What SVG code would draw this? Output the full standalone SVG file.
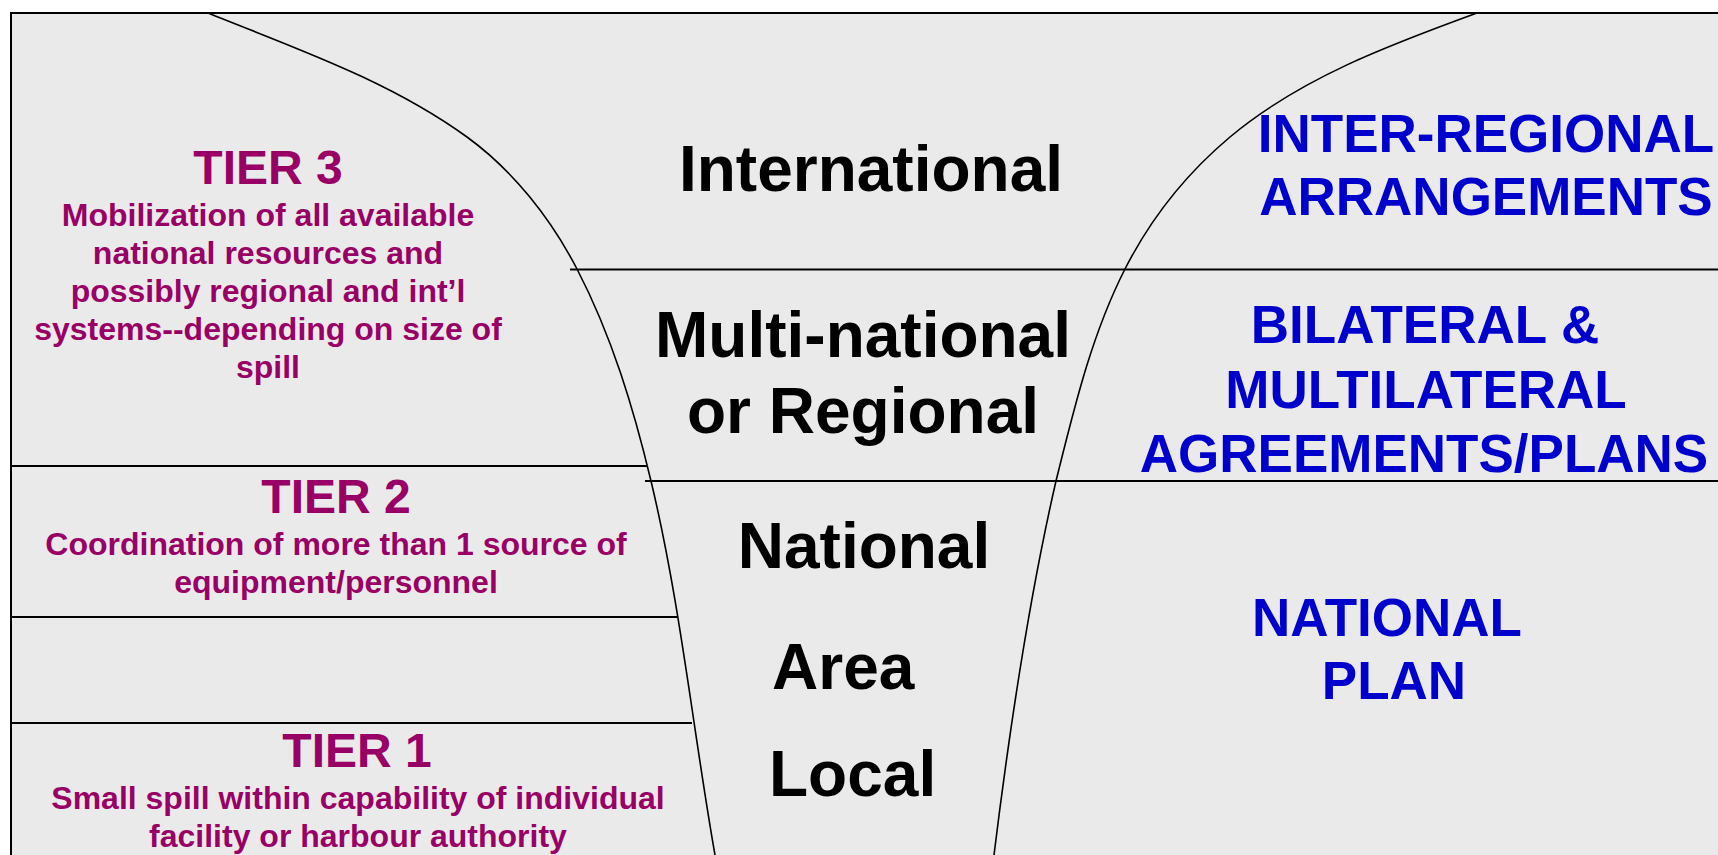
<svg xmlns="http://www.w3.org/2000/svg" width="1718" height="855" viewBox="0 0 1718 855">
<style>
text{font-family:"Liberation Sans",Arial,sans-serif;font-weight:bold;}
.lvl{font-size:64px;fill:#000;}
.tier{font-size:48px;fill:#990066;text-anchor:middle;}
.desc{font-size:32px;fill:#990066;text-anchor:middle;}
.plan{font-size:53px;fill:#0000CC;text-anchor:middle;}
.mid{text-anchor:middle;}
.hl{stroke:#000;stroke-width:2;fill:none;}
.cv{stroke:#000;stroke-width:1.6;fill:none;}
</style>
<rect width="1718" height="855" fill="#fff"/>
<rect id="frame" x="11" y="13" width="1720" height="850" fill="#EAEAEA" stroke="#000" stroke-width="2"/>
<g id="connectors">
<line class="hl" x1="570" y1="269.5" x2="1718" y2="269.5"/>
<line class="hl" x1="11" y1="466" x2="647" y2="466"/>
<line class="hl" x1="645" y1="481" x2="1718" y2="481"/>
<line class="hl" x1="11" y1="617" x2="677" y2="617"/>
<line class="hl" x1="11" y1="723" x2="692" y2="723"/>
<path id="left-curve" class="cv" d="M208,13 C297,49 389.3,80.6 467,137 C513.1,170.5 550.7,218.4 577,269 C611.6,335.5 633.5,408.1 651,481 C680.4,603.5 693.1,730.9 715,855"/>
<path id="right-curve" class="cv" d="M1477,13 C1390.5,44.5 1300.5,77.9 1230,137 C1187.1,173 1150.4,219.1 1125,269 C1091.4,334.9 1073.9,409.2 1056,481 C1027.7,603.8 1009.4,729.9 994,855"/>
</g>
<g id="international">
<text class="lvl mid" x="871" y="191">International</text>
</g>
<g id="multinational">
<text class="lvl mid" x="863" y="357">Multi-national</text>
<text class="lvl mid" x="863" y="433">or Regional</text>
</g>
<g id="national">
<text class="lvl mid" x="864" y="568">National</text>
</g>
<g id="area">
<text class="lvl" x="772" y="689">Area</text>
</g>
<g id="local">
<text class="lvl" x="769" y="796">Local</text>
</g>
<g id="tier3">
<text class="tier" x="268" y="184">TIER 3</text>
<text class="desc" x="268" y="226">Mobilization of all available</text>
<text class="desc" x="268" y="264">national resources and</text>
<text class="desc" x="268" y="302">possibly regional and int’l</text>
<text class="desc" x="268" y="340">systems--depending on size of</text>
<text class="desc" x="268" y="378">spill</text>
</g>
<g id="tier2">
<text class="tier" x="336" y="513">TIER 2</text>
<text class="desc" x="336" y="555">Coordination of more than 1 source of</text>
<text class="desc" x="336" y="593">equipment/personnel</text>
</g>
<g id="tier1">
<text class="tier" x="357" y="767">TIER 1</text>
<text class="desc" x="358" y="809">Small spill within capability of individual</text>
<text class="desc" x="358" y="847">facility or harbour authority</text>
</g>
<g id="inter-regional">
<text class="plan" x="1486" y="152">INTER-REGIONAL</text>
<text class="plan" x="1486" y="215">ARRANGEMENTS</text>
</g>
<g id="bilateral">
<text class="plan" x="1425" y="343">BILATERAL &amp;</text>
<text class="plan" x="1426" y="408">MULTILATERAL</text>
<text class="plan" x="1424" y="472">AGREEMENTS/PLANS</text>
</g>
<g id="national-plan">
<text class="plan" x="1387" y="636">NATIONAL</text>
<text class="plan" x="1394" y="699">PLAN</text>
</g>
</svg>
